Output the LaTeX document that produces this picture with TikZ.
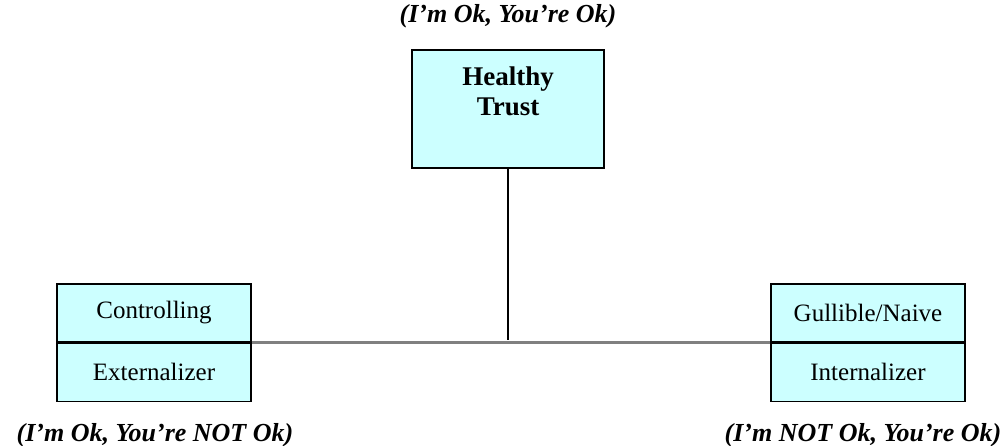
\documentclass[tikz,border=0pt]{standalone}
\usepackage{fontspec}
\setmainfont{Liberation Serif}
\usetikzlibrary{positioning}

\definecolor{paleaqua}{HTML}{CCFFFF}
\definecolor{linkgray}{HTML}{808080}

\begin{document}
\begin{tikzpicture}[
  x=1pt, y=-1pt,
  half/.style={draw, line width=1.2pt, fill=paleaqua, minimum width=194pt, minimum height=58pt,
    inner sep=0pt, font=\fontsize{25}{28}\selectfont},
  bigbox/.style={draw, line width=1.4pt, fill=paleaqua, minimum width=192pt, minimum height=118pt, inner sep=0pt},
  caption/.style={font=\fontsize{26}{30}\selectfont\bfseries\itshape}]
\useasboundingbox (0,0) rectangle (1008,446);
\node[bigbox, label={[anchor=north, yshift=-14pt, align=center,
  font=\fontsize{27}{30}\selectfont\bfseries]north:Healthy\\Trust}] (trust) at (508,109) {};
\node[caption] (toplbl) at (508,16) {(I'm Ok, You're Ok)};
\node[half] (ctrl) at (154,313) {Controlling};
\node[half, below=0pt of ctrl] (ext) {Externalizer};
\node[half] (gull) at (868,313) {Gullible/Naive};
\node[half, below=0pt of gull] (int) {Internalizer};
\node[caption] (leftlbl) at (155,435) {(I'm Ok, You're NOT Ok)};
\node[caption] (rightlbl) at (863,435) {(I'm NOT Ok, You're Ok)};
\coordinate (hub) at (trust.south |- ctrl.south);
\draw[linkgray, line width=3pt] (ctrl.south east) -- (gull.south west);
\draw[line width=1.6pt] (trust.south) -- ([yshift=3pt]hub);
\end{tikzpicture}
\end{document}
